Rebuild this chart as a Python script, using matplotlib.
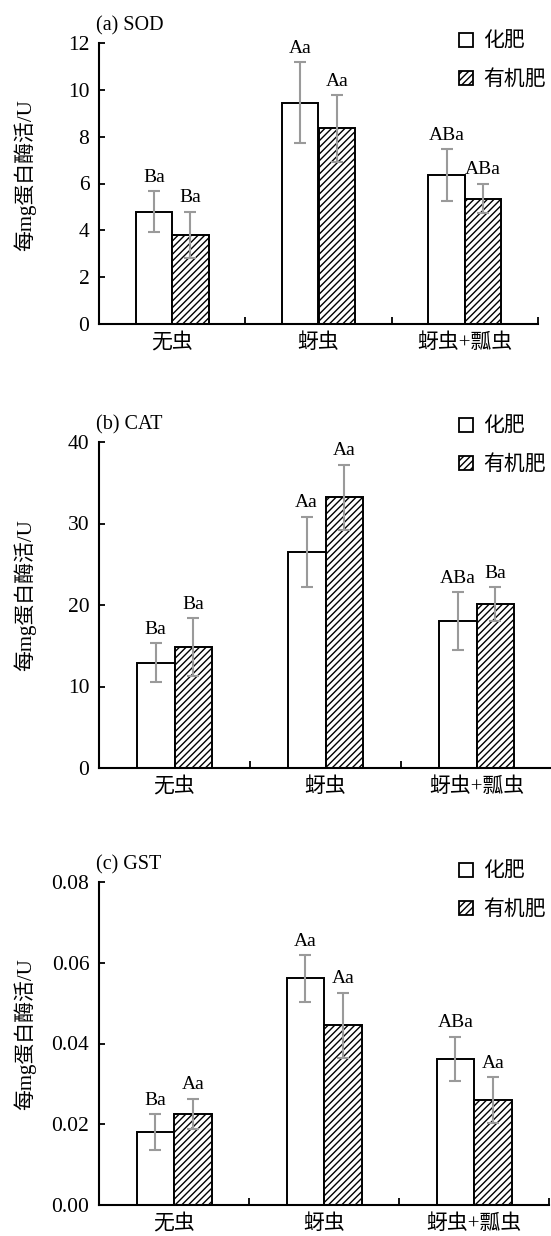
import numpy as np
import matplotlib.pyplot as plt
from matplotlib.patches import Patch
import matplotlib.transforms as mtransforms

plt.rcParams['font.family'] = ['Liberation Serif', 'Noto Sans CJK SC']
plt.rcParams['hatch.linewidth'] = 1.0
plt.rcParams['axes.unicode_minus'] = False

groups = ['无虫', '蚜虫', '蚜虫+瓢虫']
series = ['化肥', '有机肥']

# SOD
sod_chem = [4.8, 9.45, 6.35]
sod_chem_err = [0.87, 1.72, 1.11]
sod_org = [3.8, 8.35, 5.35]
sod_org_err = [1.0, 1.42, 0.63]
sod_chem_lab = ['Ba', 'Aa', 'ABa']
sod_org_lab = ['Ba', 'Aa', 'ABa']

# CAT
cat_chem = [12.9, 26.5, 18.0]
cat_chem_err = [2.4, 4.3, 3.55]
cat_org = [14.8, 33.2, 20.1]
cat_org_err = [3.55, 4.0, 2.1]
cat_chem_lab = ['Ba', 'Aa', 'ABa']
cat_org_lab = ['Ba', 'Aa', 'Ba']

# GST
gst_chem = [0.018, 0.0561, 0.0362]
gst_chem_err = [0.0045, 0.0058, 0.0055]
gst_org = [0.0226, 0.0445, 0.0259]
gst_org_err = [0.0037, 0.008, 0.0057]
gst_chem_lab = ['Ba', 'Aa', 'ABa']
gst_org_lab = ['Aa', 'Aa', 'Aa']

panels = [
    ('(a) SOD', sod_chem, sod_chem_err, sod_org, sod_org_err, sod_chem_lab, sod_org_lab,
     np.arange(0, 13, 2), '{:.0f}'),
    ('(b) CAT', cat_chem, cat_chem_err, cat_org, cat_org_err, cat_chem_lab, cat_org_lab,
     np.arange(0, 41, 10), '{:.0f}'),
    ('(c) GST', gst_chem, gst_chem_err, gst_org, gst_org_err, gst_chem_lab, gst_org_lab,
     np.arange(0, 0.081, 0.02), '{:.2f}'),
]

# axes boxes in figure pixels: left, right, top, bottom
W, H = 551, 1236
boxes = [(99, 538, 43, 324), (99, 552, 442, 768), (99, 549, 882, 1205)]
legend_top = [33, 418, 863]

fig = plt.figure(figsize=(W / 100, H / 100), dpi=100)

x = np.arange(len(groups))
bw = 0.25
ecol = '#9a9a9a'

for (title, c, ce, o, oe, cl, ol, yt, fmt), (l, r, t, b), lt in zip(panels, boxes, legend_top):
    ax = fig.add_axes([l / W, 1 - b / H, (r - l) / W, (b - t) / H])
    ax.bar(x - bw / 2, c, bw, color='white', edgecolor='black', linewidth=1.4, zorder=2)
    ax.bar(x + bw / 2, o, bw, color='white', edgecolor='black', linewidth=1.4,
           hatch='/////', zorder=2)
    ax.errorbar(x - bw / 2, c, yerr=ce, fmt='none', ecolor=ecol, elinewidth=1.5,
                capsize=4.5, capthick=1.5, zorder=3)
    ax.errorbar(x + bw / 2, o, yerr=oe, fmt='none', ecolor=ecol, elinewidth=1.5,
                capsize=4.5, capthick=1.5, zorder=3)
    for xi, v, e, s in zip(x - bw / 2, c, ce, cl):
        ax.annotate(s, (xi, v + e), xytext=(0, 4), textcoords='offset points',
                    ha='center', va='bottom', fontsize=14)
    for xi, v, e, s in zip(x + bw / 2, o, oe, ol):
        ax.annotate(s, (xi, v + e), xytext=(0, 4), textcoords='offset points',
                    ha='center', va='bottom', fontsize=14)

    ax.set_xlim(-0.5, 2.5)
    ax.set_ylim(yt[0], yt[-1])
    ax.set_yticks(yt)
    ax.set_yticklabels([fmt.format(v) for v in yt], fontsize=15.5)
    ax.tick_params(axis='y', direction='in', length=4, width=1.3, pad=7)

    # group dividers as major ticks, names centred as minor ticks
    ax.set_xticks([0.5, 1.5, 2.5])
    ax.set_xticklabels([])
    ax.tick_params(axis='x', which='major', direction='in', length=5, width=1.3)
    ax.set_xticks(x, minor=True)
    ax.set_xticklabels(groups, minor=True, fontsize=15)
    ax.tick_params(axis='x', which='minor', length=0, pad=7)

    for sp in ['top', 'right']:
        ax.spines[sp].set_visible(False)
    for sp in ['left', 'bottom']:
        ax.spines[sp].set_linewidth(1.5)

    ax.set_ylabel('每mg蛋白酶活/U', fontsize=15)
    ax.yaxis.set_label_coords(36 / W, 0.53,
                              transform=mtransforms.blended_transform_factory(fig.transFigure, ax.transAxes))

    fig.text(96 / W, 1 - (t - 17) / H, title, fontsize=14.5, ha='left', va='center')

    handles = [Patch(facecolor='white', edgecolor='black', linewidth=1.3),
               Patch(facecolor='white', edgecolor='black', linewidth=1.3, hatch='/////')]
    ax.legend(handles, series, loc='upper left', bbox_to_anchor=(459 / W, 1 - lt / H),
              bbox_transform=fig.transFigure, frameon=False, fontsize=15,
              handlelength=0.65, handleheight=0.65, handletextpad=0.5,
              labelspacing=0.85, borderpad=0, borderaxespad=0)

fig.savefig('out.png', dpi=100)
